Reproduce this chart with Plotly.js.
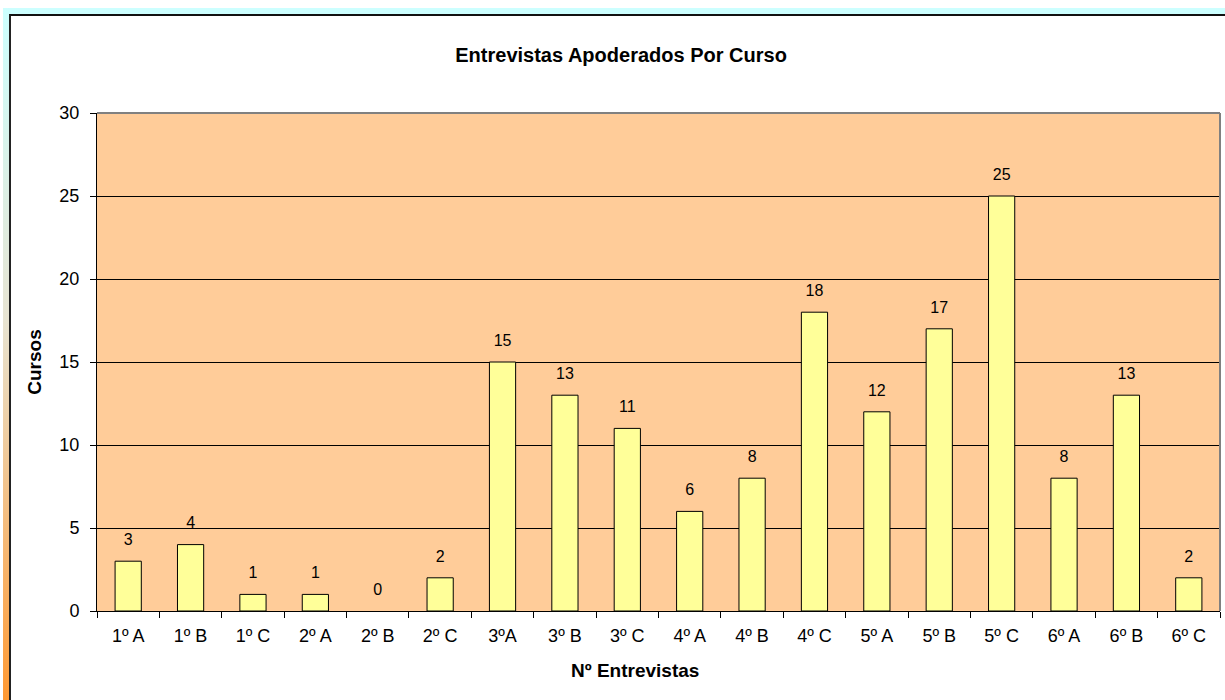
<!DOCTYPE html>
<html>
<head>
<meta charset="utf-8">
<script src="https://cdn.plot.ly/plotly-3.0.1.min.js"></script>
<style>
html,body{margin:0;padding:0;background:#fff;width:1225px;height:700px;overflow:hidden;}
#topband{position:absolute;left:3px;top:8px;width:1222px;height:7px;background:#CCFFFF;}
#leftband{position:absolute;left:3px;top:8px;width:7px;height:692px;background:linear-gradient(#CCFFFF 0%, #E8E4D2 45%, #FF9933 100%);}
#border{position:absolute;left:9px;top:14px;width:1216px;height:686px;border-left:2px solid #222;border-top:2px solid #111;box-sizing:border-box;background:#fff;}
#chart{position:absolute;left:0;top:0;width:1225px;height:700px;}
</style>
</head>
<body>
<div id="topband"></div>
<div id="leftband"></div>
<div id="border"></div>
<div id="chart"></div>
<script>
const categories = ["1º A","1º B","1º C","2º A","2º B","2º C","3ºA","3º B","3º C","4º A","4º B","4º C","5º A","5º B","5º C","6º A","6º B","6º C"];
const values = [3,4,1,1,0,2,15,13,11,6,8,18,12,17,25,8,13,2];
const yTicks = [0,5,10,15,20,25,30];
const chartTitle = "Entrevistas Apoderados Por Curso";
const xTitle = "Nº Entrevistas";
const yTitle = "Cursos";

const font = "Arial, 'Liberation Sans', sans-serif";

const data = [
  {
    type: "bar",
    x: categories,
    y: values,
    marker: {color: "#FFFF99", line: {color: "#000", width: values.map(v => v === 0 ? 0 : 1)}},
    hoverinfo: "none"
  },
  {
    type: "scatter",
    mode: "markers+text",
    x: categories,
    y: values,
    text: values.map(String),
    textposition: "top center",
    textfont: {family: font, size: 16, color: "#000"},
    marker: {size: 18, opacity: 0},
    hoverinfo: "none",
    cliponaxis: false
  }
];

const layout = {
  width: 1225,
  height: 700,
  margin: {l: 97, r: 5, t: 113, b: 89},
  paper_bgcolor: "rgba(0,0,0,0)",
  plot_bgcolor: "#FFCC99",
  showlegend: false,
  bargap: 0.58,
  font: {family: font, color: "#000"},
  title: {
    text: "<b>" + chartTitle + "</b>",
    font: {family: font, size: 20, color: "#000"},
    x: 0.507, xanchor: "center",
    y: 1 - 55/700, yanchor: "middle"
  },
  xaxis: {
    type: "category",
    range: [-0.5, categories.length - 0.5],
    tickson: "boundaries",
    ticks: "outside",
    ticklen: 6,
    tickcolor: "#000",
    ticklabelstandoff: 8,
    showline: true,
    linecolor: "#000",
    linewidth: 1,
    showgrid: false,
    tickfont: {family: font, size: 18, color: "#000"},
    fixedrange: true
  },
  yaxis: {
    range: [0, 30],
    tickvals: yTicks,
    ticks: "outside",
    ticklen: 6,
    tickcolor: "#000",
    ticklabelstandoff: 7,
    showline: true,
    linecolor: "#000",
    linewidth: 1,
    showgrid: true,
    gridcolor: "#000",
    gridwidth: 1,
    zeroline: false,
    tickfont: {family: font, size: 18, color: "#000"},
    title: {text: "<b>" + yTitle + "</b>", font: {family: font, size: 19, color: "#000"}, standoff: 12},
    fixedrange: true
  },
  annotations: [
    {
      text: "<b>" + xTitle + "</b>",
      xref: "paper", yref: "paper",
      x: (635 - 97) / (1220 - 97), y: -(670 - 611) / (611 - 113),
      xanchor: "center", yanchor: "middle",
      showarrow: false,
      font: {family: font, size: 19, color: "#000"}
    }
  ],
  shapes: [
    {type: "line", xref: "paper", yref: "paper", x0: 0, x1: 1, y0: 1, y1: 1, line: {color: "#808080", width: 2}},
    {type: "line", xref: "paper", yref: "paper", x0: 1, x1: 1, y0: 0, y1: 1, line: {color: "#808080", width: 2}}
  ]
};

Plotly.newPlot("chart", data, layout, {displayModeBar: false, staticPlot: true});
</script>
</body>
</html>
